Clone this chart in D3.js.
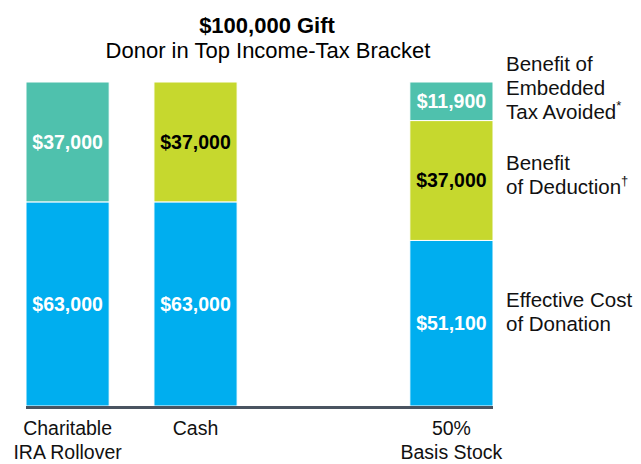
<!DOCTYPE html>
<html>
<head>
<meta charset="utf-8">
<script src="https://cdn.jsdelivr.net/npm/d3@7"></script>
<style>
  html, body { margin: 0; padding: 0; background: #fff; }
  svg { display: block; font-family: "Liberation Sans", Arial, sans-serif; }
</style>
</head>
<body>
<svg id="chart" width="641" height="464"></svg>
<script>
// ---- data ----
const categories = ["Charitable IRA Rollover", "Cash", "50% Basis Stock"];
const categoryLines = [["Charitable", "IRA Rollover"], ["Cash"], ["50%", "Basis Stock"]];
const effectiveCost = [63000, 63000, 51100];
const deductionBenefit = [0, 37000, 37000];
const embeddedTaxBenefit = [37000, 0, 11900];
const seriesKeys = ["effectiveCost", "deductionBenefit", "embeddedTaxBenefit"];
const seriesLegend = [
  { lines: ["Effective Cost", "of Donation"], sup: "" },
  { lines: ["Benefit", "of Deduction"], sup: "\u2020" },
  { lines: ["Benefit of", "Embedded", "Tax Avoided"], sup: "*" }
];
const titleText = "$100,000 Gift";
const subtitleText = "Donor in Top Income-Tax Bracket";

// ---- styles ----
const colors = { effectiveCost: "#00AEEF", deductionBenefit: "#C6D82E", embeddedTaxBenefit: "#4FC1AD" };
const labelColors = { effectiveCost: "#fff", deductionBenefit: "#000", embeddedTaxBenefit: "#fff" };

const svg = d3.select("#chart");
const baseY = 406, topY = 82;
const spacer = "__gap__";

const x = d3.scaleBand()
  .domain([categories[0], categories[1], spacer, categories[2]])
  .range([26, 493])
  .paddingInner(0.35)
  .paddingOuter(0);

const y = d3.scaleLinear().domain([0, 100000]).range([baseY, topY]);

const rows = categories.map((c, i) => ({
  category: c,
  effectiveCost: effectiveCost[i],
  deductionBenefit: deductionBenefit[i],
  embeddedTaxBenefit: embeddedTaxBenefit[i]
}));

const stacked = d3.stack().keys(seriesKeys)(rows);
const fmt = v => "$" + d3.format(",")(v);

// bars
const layers = svg.append("g").selectAll("g")
  .data(stacked).join("g")
  .attr("fill", d => colors[d.key]);

layers.selectAll("rect")
  .data(d => d.map(p => ({ key: d.key, p })))
  .join("rect")
  .filter(d => d.p[1] - d.p[0] > 0)
  .attr("x", d => x(d.p.data.category))
  .attr("width", x.bandwidth())
  .attr("y", d => y(d.p[1]))
  .attr("height", d => y(d.p[0]) - y(d.p[1]))
  .attr("stroke", "#fff")
  .attr("stroke-width", 1);

// segment labels
stacked.forEach(layer => {
  layer.forEach(p => {
    const v = p[1] - p[0];
    if (v <= 0) return;
    svg.append("text")
      .attr("x", x(p.data.category) + x.bandwidth() / 2)
      .attr("y", (y(p[0]) + y(p[1])) / 2)
      .attr("dy", "0.35em")
      .attr("text-anchor", "middle")
      .attr("font-size", 19.5)
      .attr("font-weight", "bold")
      .attr("fill", labelColors[layer.key])
      .text(fmt(v));
  });
});

// baseline axis
svg.append("line")
  .attr("x1", x.range()[0]).attr("x2", x.range()[1])
  .attr("y1", baseY + 1.5).attr("y2", baseY + 1.5)
  .attr("stroke", "#4A5461").attr("stroke-width", 3);

// category labels
categories.forEach((c, i) => {
  const cx = x(c) + x.bandwidth() / 2;
  const t = svg.append("text")
    .attr("x", cx)
    .attr("y", 435)
    .attr("text-anchor", "middle")
    .attr("font-size", 19.5)
    .attr("fill", "#111");
  categoryLines[i].forEach((ln, j) => {
    t.append("tspan").attr("x", cx).attr("dy", j === 0 ? 0 : 24).text(ln);
  });
});

// titles
svg.append("text").attr("x", 267).attr("y", 33).attr("text-anchor", "middle")
  .attr("font-size", 22).attr("font-weight", "bold").attr("fill", "#000").text(titleText);
svg.append("text").attr("x", 268).attr("y", 58).attr("text-anchor", "middle")
  .attr("font-size", 22).attr("fill", "#000").text(subtitleText);

// right-side legend annotations
const legendX = x(categories[2]) + x.bandwidth() + 13;
const legendBaselines = [307, 170, 71];
seriesLegend.forEach((s, i) => {
  const t = svg.append("text")
    .attr("x", legendX).attr("y", legendBaselines[i])
    .attr("font-size", 20.5).attr("fill", "#111");
  s.lines.forEach((ln, j) => {
    t.append("tspan").attr("x", legendX).attr("dy", j === 0 ? 0 : 24).text(ln);
    if (j === s.lines.length - 1 && s.sup) {
      t.append("tspan").attr("dy", -9).attr("font-size", 13).text(s.sup);
    }
  });
});
</script>
</body>
</html>
